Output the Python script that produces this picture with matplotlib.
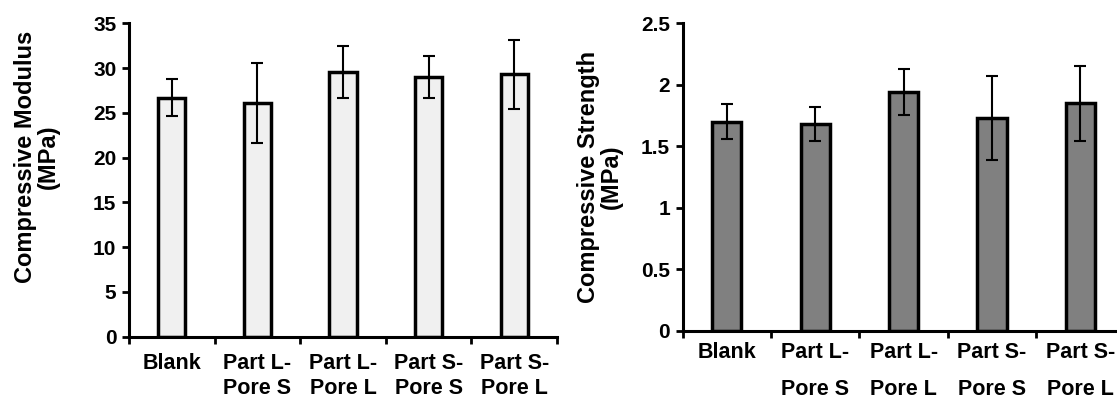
import matplotlib

matplotlib.use("Agg")
import matplotlib.pyplot as plt
import numpy as np

plt.rcParams["font.family"] = ["Liberation Sans", "DejaVu Sans"]
plt.rcParams["font.weight"] = "bold"

CATEGORIES = ["Blank", "Part L-\nPore S", "Part L-\nPore L", "Part S-\nPore S", "Part S-\nPore L"]

MODULUS = [26.7, 26.1, 29.6, 29.0, 29.3]
MODULUS_ERR = [2.1, 4.5, 2.9, 2.35, 3.85]

STRENGTH = [1.70, 1.68, 1.94, 1.73, 1.85]
STRENGTH_ERR = [0.143, 0.14, 0.188, 0.343, 0.306]

W, H = 1117, 398


def draw_panel(ax, values, errors, color, ymax, ystep, bar_width, label_spacing, label_pad):
    n = len(values)
    x = np.arange(n) + 0.5
    ax.bar(x, values, width=bar_width, color=color, edgecolor="black",
           linewidth=2.5, zorder=2)
    ax.errorbar(x, values, yerr=errors, fmt="none", ecolor="black",
                elinewidth=1.5, capsize=4.5, capthick=1.5, zorder=3)
    ax.set_xlim(0, n)
    ax.set_ylim(0, ymax)
    yt = np.arange(0, ymax + ystep / 2, ystep)
    ax.set_yticks(yt)
    ax.set_yticklabels([f"{v:g}" for v in yt], fontsize=15, fontweight="bold")
    # ticks sit between the categories, labels in the middle
    ax.set_xticks(np.arange(n + 1))
    ax.set_xticklabels([])
    ax.set_xticks(x, minor=True)
    ax.set_xticklabels(CATEGORIES, minor=True, fontsize=15.5, fontweight="bold",
                       linespacing=label_spacing)
    ax.tick_params(axis="x", which="minor", length=0, pad=label_pad)
    ax.tick_params(axis="both", which="major", direction="out", length=5, width=2)
    ax.tick_params(axis="y", pad=4)
    for side in ("top", "right"):
        ax.spines[side].set_visible(False)
    for side in ("left", "bottom"):
        ax.spines[side].set_linewidth(2.2)


fig = plt.figure(figsize=(W / 100, H / 100), dpi=100)

# left panel: modulus
ax1 = fig.add_axes([129 / W, (H - 336.7) / H, 428 / W, 313.4 / H])
draw_panel(ax1, MODULUS, MODULUS_ERR, "#f0f0f0", 35, 5, 0.32, 1.2, 12)
fig.text(37 / W, 1 - 157 / H, "Compressive Modulus\n(MPa)", rotation=90,
         ha="center", va="center", fontsize=17, fontweight="bold", linespacing=1.0)

# right panel: strength (runs off the right edge like the original)
ax2 = fig.add_axes([682.6 / W, (H - 331) / H, 442 / W, 307.7 / H])
draw_panel(ax2, STRENGTH, STRENGTH_ERR, "#808080", 2.5, 0.5, 0.33, 2.0, 8)
fig.text(600 / W, 1 - 177 / H, "Compressive Strength\n(MPa)", rotation=90,
         ha="center", va="center", fontsize=17, fontweight="bold", linespacing=1.0)

fig.savefig("out.png", dpi=100)
